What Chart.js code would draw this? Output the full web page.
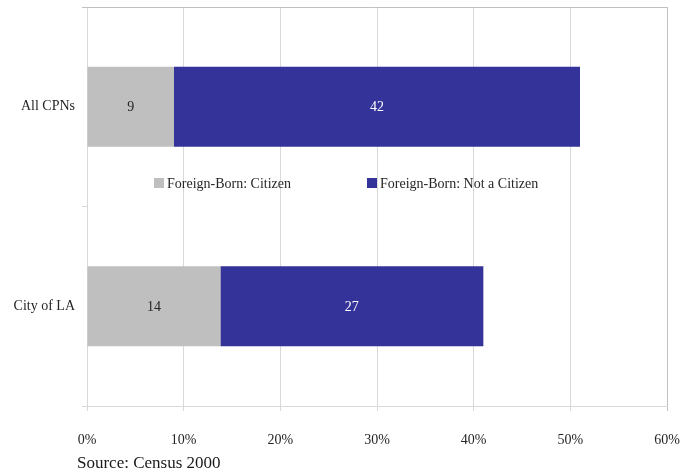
<!DOCTYPE html>
<html>
<head>
<meta charset="utf-8">
<script src="https://cdn.jsdelivr.net/npm/chart.js@4"></script>
<style>
  html, body { margin: 0; padding: 0; background: #fff; }
  #wrap { width: 690px; height: 472px; }
</style>
</head>
<body>
<div id="wrap"><canvas id="chart" width="690" height="472"></canvas></div>
<script>
// data
const categories = ['All CPNs', 'City of LA'];
const citizen = [9.0, 13.8];
const notCitizen = [42.0, 27.2];
const seriesLabels = ['Foreign-Born: Citizen', 'Foreign-Born: Not a Citizen'];
const xTicks = [0, 10, 20, 30, 40, 50, 60];
const sourceNote = 'Source: Census 2000';

const FONT = "'Liberation Serif', 'DejaVu Serif', serif";
const GRAY = '#bfbfbf';
const BLUE = '#333399';

// values inside the bars
const barLabels = {
    id: 'barLabels',
    afterDatasetsDraw(chart) {
        const ctx = chart.ctx;
        ctx.save();
        ctx.font = '14px ' + FONT;
        ctx.textAlign = 'center';
        ctx.textBaseline = 'middle';
        chart.data.datasets.forEach((ds, di) => {
            const meta = chart.getDatasetMeta(di);
            meta.data.forEach((bar, i) => {
                const p = bar.getCenterPoint();
                ctx.fillStyle = di === 0 ? '#262626' : '#ffffff';
                ctx.fillText(Math.round(ds.data[i]), p.x, p.y + 1);
            });
        });
        ctx.restore();
    }
};

// top border of the plot area
const plotBorder = {
    id: 'plotBorder',
    beforeDatasetsDraw(chart) {
        const { ctx, chartArea } = chart;
        ctx.save();
        ctx.strokeStyle = '#c0c0c0';
        ctx.lineWidth = 1;
        ctx.beginPath();
        ctx.moveTo(chartArea.left - 5, Math.round(chartArea.top) + 0.5);
        ctx.lineTo(chartArea.right + 0.5, Math.round(chartArea.top) + 0.5);
        ctx.stroke();
        ctx.restore();
    }
};

// legend sits in the middle of the plot, like the excel one
const midLegend = {
    id: 'midLegend',
    afterDraw(chart) {
        const ctx = chart.ctx;
        const y = 183;
        const spots = [154, 367];
        ctx.save();
        ctx.font = '14px ' + FONT;
        ctx.textBaseline = 'middle';
        ctx.textAlign = 'left';
        chart.data.datasets.forEach((ds, di) => {
            const x = spots[di];
            ctx.fillStyle = ds.backgroundColor;
            ctx.fillRect(x, y - 5, 10, 10);
            ctx.fillStyle = '#262626';
            ctx.fillText(ds.label, x + 13, y + 1);
        });
        // source note under the axis
        ctx.font = '17px ' + FONT;
        ctx.fillStyle = '#1a1a1a';
        ctx.fillText(sourceNote, 77, 464);
        ctx.restore();
    }
};

new Chart(document.getElementById('chart'), {
    type: 'bar',
    data: {
        labels: categories,
        datasets: [{
            label: seriesLabels[0],
            data: citizen,
            backgroundColor: GRAY,
            barPercentage: 0.4,
            categoryPercentage: 1.0
        }, {
            label: seriesLabels[1],
            data: notCitizen,
            backgroundColor: BLUE,
            barPercentage: 0.4,
            categoryPercentage: 1.0
        }]
    },
    options: {
        indexAxis: 'y',
        responsive: false,
        animation: false,
        layout: { padding: { top: 7, right: 23, bottom: 26, left: 0 } },
        plugins: {
            legend: { display: false },
            tooltip: { enabled: false }
        },
        scales: {
            x: {
                stacked: true,
                min: 0,
                max: 60,
                afterBuildTicks: (scale) => {
                    scale.ticks = xTicks.map(v => ({ value: v }));
                },
                afterFit: (scale) => {
                    scale.height = 40;
                    scale.paddingLeft = 0;
                    scale.paddingRight = 0;
                },
                grid: {
                    color: (c) => c.index === xTicks.length - 1 ? '#c0c0c0' : '#d9d9d9',
                    lineWidth: 1,
                    tickLength: 5
                },
                border: { color: '#d9d9d9' },
                ticks: {
                    padding: 21,
                    color: '#262626',
                    font: { family: FONT, size: 14 },
                    callback: (v) => v + '%'
                }
            },
            y: {
                stacked: true,
                afterFit: (scale) => {
                    scale.width = 87;
                    scale.paddingTop = 0;
                    scale.paddingBottom = 0;
                },
                grid: {
                    offset: true,
                    drawOnChartArea: false,
                    color: '#d9d9d9',
                    tickLength: 5
                },
                border: { color: '#d9d9d9' },
                ticks: {
                    padding: 7,
                    color: '#262626',
                    font: { family: FONT, size: 14 }
                }
            }
        }
    },
    plugins: [plotBorder, barLabels, midLegend]
});
</script>
</body>
</html>
